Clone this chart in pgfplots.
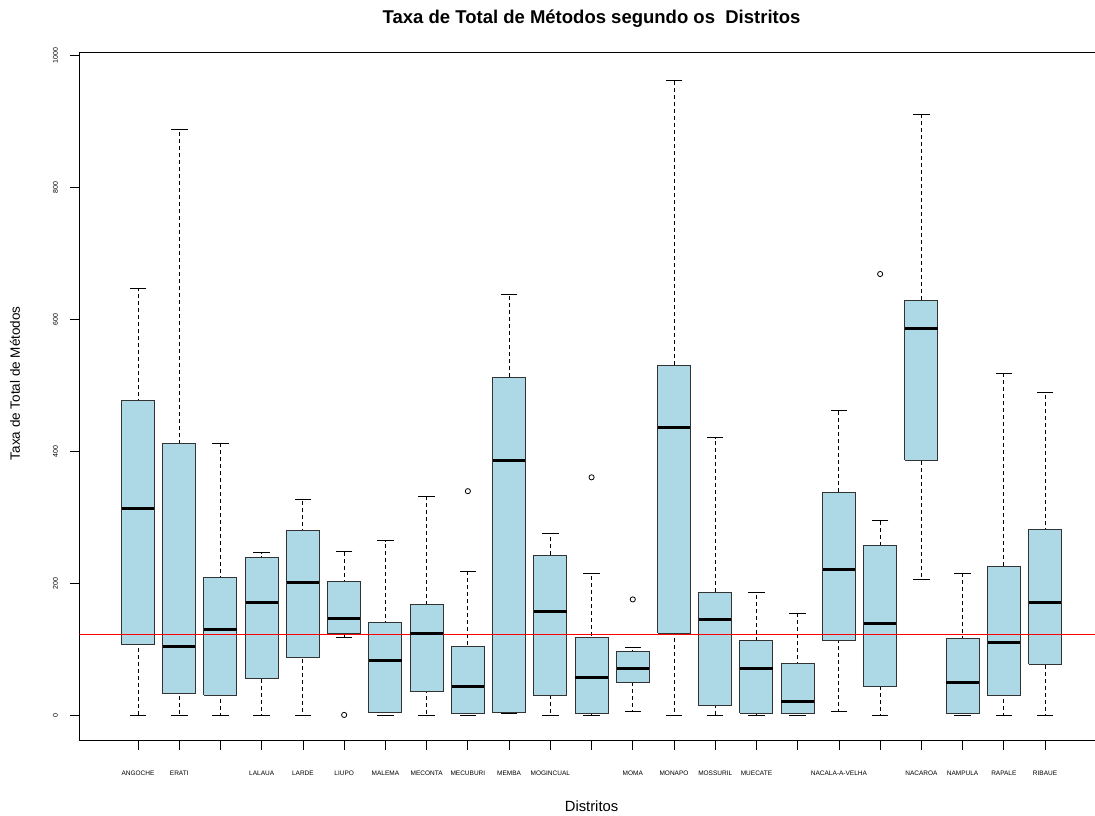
\documentclass[border=0pt]{standalone}
\usepackage{pgfplots}
\usepackage{pgfplotstable}
\pgfplotsset{compat=1.18}
\usepackage{fontspec}
\setmainfont{Liberation Sans}
\definecolor{lightblue}{HTML}{ADD8E6}
\pgfplotstableread{
pos lw q1 med q3 uw
1 0 107 314 477 647
2 0 33 104 412 888
3 0 31 131 209 412
4 0 56 172 239 247
5 0 88 202 281 328
6 118 124 147 203 249
7 0 4.5 84 141 265
8 0 37 125 169 332
9 0 3.5 44 105 219
10 2.5 4.5 386 512 638
11 0 30 158 242 276
12 0 3.5 57 119 215
13 6 49.5 72 96.5 103
14 0 125 436 530 963
15 0 15 145 186 421
16 0 3.5 71 114 186
17 0 2.5 22 79 154
18 6 114 222 338 462
19 0.5 44 140 257 295
20 206 387 587 629 911
21 0 2.5 50.5 117 216
22 0 31 110 226 518
23 0 78 172 282 490
}\stats
\pgfplotsset{bxs/.style={draw=black!80, fill=lightblue, line width=1pt, line join=miter}}
\begin{document}
\begin{tikzpicture}
\begin{axis}[
  scale only axis, width=1024.1pt, height=688pt,
  xmin=-0.42, xmax=24.42, ymin=-38.5, ymax=1003.9,
  axis line style={black, line width=1pt},
  tick align=outside, major tick length=9pt,
  tick style={black, line width=0.8pt},
  xtick={1,...,23},
  xticklabels={ANGOCHE,ERATI,,LALAUA,LARDE,LIUPO,MALEMA,MECONTA,MECUBURI,MEMBA,MOGINCUAL,,MOMA,MONAPO,MOSSURIL,MUECATE,,NACALA-A-VELHA,,NACAROA,NAMPULA,RAPALE,RIBAUE},
  ytick={0,200,400,600,800,1000},
  yticklabels={0,200,400,600,800,1000},
  xticklabel style={font=\fontsize{6.5}{7}\selectfont, anchor=north, yshift=-17pt},
  yticklabel style={font=\fontsize{7}{8}\selectfont, rotate=90, anchor=south, yshift=9pt},
  xtick pos=left, ytick pos=left,
  title={Taxa de Total de Métodos segundo os\ \ Distritos},
  title style={font=\bfseries\fontsize{18.5}{22}\selectfont, at={(axis description cs:0.5,1)}, anchor=center, yshift=28pt},
  xlabel={Distritos},
  xlabel style={font=\fontsize{14.8}{17}\selectfont, at={(axis description cs:0.5,0)}, anchor=center, yshift=-65pt},
  ylabel={Taxa de Total de Métodos},
  ylabel style={font=\fontsize{13.5}{16}\selectfont, at={(axis description cs:-0.063,0.52)}, anchor=center},
]
% whiskers (dashed), drawn under the boxes
\addplot[draw=none, mark=none,
  error bars/.cd, y dir=both, y explicit, error mark=none,
  error bar style={draw=black, line width=0.9pt, dash pattern=on 4pt off 3pt}]
  table[x=pos, y=med, y error plus expr=\thisrow{uw}-\thisrow{med}, y error minus expr=\thisrow{med}-\thisrow{lw}] {\stats};
% boxes
\addplot[bxs] coordinates {(0.6,107) (1.4,107) (1.4,477) (0.6,477) (0.6,107)};
\addplot[bxs] coordinates {(1.6,33) (2.4,33) (2.4,412) (1.6,412) (1.6,33)};
\addplot[bxs] coordinates {(2.6,31) (3.4,31) (3.4,209) (2.6,209) (2.6,31)};
\addplot[bxs] coordinates {(3.6,56) (4.4,56) (4.4,239) (3.6,239) (3.6,56)};
\addplot[bxs] coordinates {(4.6,88) (5.4,88) (5.4,281) (4.6,281) (4.6,88)};
\addplot[bxs] coordinates {(5.6,124) (6.4,124) (6.4,203) (5.6,203) (5.6,124)};
\addplot[bxs] coordinates {(6.6,4.5) (7.4,4.5) (7.4,141) (6.6,141) (6.6,4.5)};
\addplot[bxs] coordinates {(7.6,37) (8.4,37) (8.4,169) (7.6,169) (7.6,37)};
\addplot[bxs] coordinates {(8.6,3.5) (9.4,3.5) (9.4,105) (8.6,105) (8.6,3.5)};
\addplot[bxs] coordinates {(9.6,4.5) (10.4,4.5) (10.4,512) (9.6,512) (9.6,4.5)};
\addplot[bxs] coordinates {(10.6,30) (11.4,30) (11.4,242) (10.6,242) (10.6,30)};
\addplot[bxs] coordinates {(11.6,3.5) (12.4,3.5) (12.4,119) (11.6,119) (11.6,3.5)};
\addplot[bxs] coordinates {(12.6,49.5) (13.4,49.5) (13.4,96.5) (12.6,96.5) (12.6,49.5)};
\addplot[bxs] coordinates {(13.6,125) (14.4,125) (14.4,530) (13.6,530) (13.6,125)};
\addplot[bxs] coordinates {(14.6,15) (15.4,15) (15.4,186) (14.6,186) (14.6,15)};
\addplot[bxs] coordinates {(15.6,3.5) (16.4,3.5) (16.4,114) (15.6,114) (15.6,3.5)};
\addplot[bxs] coordinates {(16.6,2.5) (17.4,2.5) (17.4,79) (16.6,79) (16.6,2.5)};
\addplot[bxs] coordinates {(17.6,114) (18.4,114) (18.4,338) (17.6,338) (17.6,114)};
\addplot[bxs] coordinates {(18.6,44) (19.4,44) (19.4,257) (18.6,257) (18.6,44)};
\addplot[bxs] coordinates {(19.6,387) (20.4,387) (20.4,629) (19.6,629) (19.6,387)};
\addplot[bxs] coordinates {(20.6,2.5) (21.4,2.5) (21.4,117) (20.6,117) (20.6,2.5)};
\addplot[bxs] coordinates {(21.6,31) (22.4,31) (22.4,226) (21.6,226) (21.6,31)};
\addplot[bxs] coordinates {(22.6,78) (23.4,78) (23.4,282) (22.6,282) (22.6,78)};
% medians
\addplot[only marks, mark=-, mark size=16.2pt, mark options={black, line width=3pt}] table[x=pos, y=med] {\stats};
% whisker caps
\addplot[only marks, mark=-, mark size=8.25pt, mark options={black, line width=0.9pt}] table[x=pos, y=uw] {\stats};
\addplot[only marks, mark=-, mark size=8.25pt, mark options={black, line width=0.9pt}] table[x=pos, y=lw] {\stats};
% outliers
\addplot[only marks, mark=o, mark size=2.6pt, mark options={black, line width=0.8pt, solid}] coordinates {(6,1) (9,340) (12,361) (13,176) (19,669)};
% reference line
\addplot[red, line width=1pt] coordinates {(-0.42,122.7) (24.42,122.7)};
\coordinate (bbll) at (axis description cs:-0.0776,-0.109);
\coordinate (bbur) at (axis description cs:0.9916,1.077);
\end{axis}
\pgfresetboundingbox
\path[use as bounding box] (bbll) rectangle (bbur);
\end{tikzpicture}
\end{document}
